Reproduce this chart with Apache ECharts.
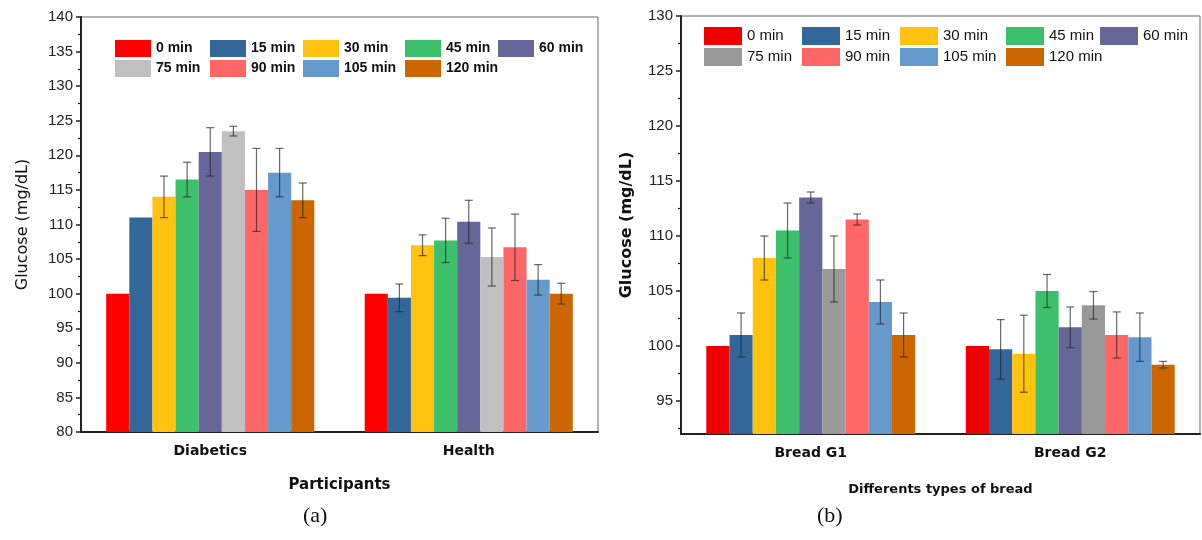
<!DOCTYPE html>
<html>
<head>
<meta charset="utf-8">
<script src="https://cdn.jsdelivr.net/npm/echarts@6/dist/echarts.min.js"></script>
<style>
  html, body { margin: 0; padding: 0; background: #fff; }
  #main { width: 1202px; height: 540px; }
</style>
</head>
<body>
<div id="main"></div>
<script>
// time points (legend)
const timeNames = ['0 min', '15 min', '30 min', '45 min', '60 min', '75 min', '90 min', '105 min', '120 min']
const colorsA = ['#FF0000', '#336699', '#FFC20E', '#3CC06C', '#666699', '#C0C0C0', '#FF6666', '#6699CC', '#CC6600']
const colorsB = ['#EE0000', '#336699', '#FFC20E', '#3CC06C', '#666699', '#999999', '#FF6666', '#6699CC', '#CC6600']

// (a) participants
const groupsA = ['Diabetics', 'Health']
const diabeticsMean = [100, 111, 114, 116.5, 120.5, 123.5, 115, 117.5, 113.5]
const diabeticsErr = [null, null, 3, 2.5, 3.5, 0.7, 6, 3.5, 2.5]
const healthMean = [100, 99.4, 107, 107.7, 110.4, 105.3, 106.7, 102, 100]
const healthErr = [null, 2, 1.5, 3.2, 3.1, 4.2, 4.8, 2.2, 1.5]

// (b) bread types
const groupsB = ['Bread G1', 'Bread G2']
const breadG1Mean = [100, 101, 108, 110.5, 113.5, 107, 111.5, 104, 101]
const breadG1Err = [null, 2, 2, 2.5, 0.5, 3, 0.5, 2, 2]
const breadG2Mean = [100, 99.7, 99.3, 105, 101.7, 103.7, 101, 100.8, 98.3]
const breadG2Err = [null, 2.7, 3.5, 1.5, 1.85, 1.25, 2.1, 2.2, 0.3]

// axis ticks
const ticksA = [80, 85, 90, 95, 100, 105, 110, 115, 120, 125, 130, 135, 140]
const ticksB = [95, 100, 105, 110, 115, 120, 125, 130]
const minorTicksB = [92.5, 97.5, 102.5, 107.5, 112.5, 117.5, 122.5, 127.5]

// legend columns (x of the swatch), 5 per row
const legendColsA = [115, 210, 303, 405, 498]
const legendColsB = [704, 802, 900, 1006, 1100]

const catGap = 0.195
const sans = 'Liberation Sans'
const gothic = 'DejaVu Sans'

let chart
let option = {}

// error bar drawn on top of the grouped bar
function renderErr(params, api){
  const cat = api.value(0)
  const idx = api.value(1)
  const mean = api.value(2)
  const err = api.value(3)
  const band = api.size([1, 0])[0]
  const barW = band * (1 - catGap) / timeNames.length
  const top = api.coord([cat, mean + err])
  const bot = api.coord([cat, mean - err])
  const x = top[0] + (idx - (timeNames.length - 1) / 2) * barW
  const style = {stroke: 'rgba(40,40,40,0.7)', lineWidth: 1.2}
  return {
    type: 'group',
    children: [
      {type: 'line', shape: {x1: x, y1: top[1], x2: x, y2: bot[1]}, style},
      {type: 'line', shape: {x1: x - 4, y1: top[1], x2: x + 4, y2: top[1]}, style},
      {type: 'line', shape: {x1: x - 4, y1: bot[1], x2: x + 4, y2: bot[1]}, style}
    ]
  }
}

function errData(means, errs){
  const out = []
  means.forEach((m, ci) => {
    m.forEach((v, i) => {
      if(errs[ci][i] != null) out.push([ci, i, v, errs[ci][i]])
    })
  })
  return out
}

// one legend per column (two stacked items) so the columns line up
function legendCols(cols, colors, top, textStyle, iw, ih, gap){
  return cols.map((x, c) => {
    const idx = [c, c + cols.length].filter(k => k < timeNames.length)
    return {
      left: x - 5, top: top - 5,
      orient: 'vertical',
      icon: 'rect',
      itemWidth: iw,
      itemHeight: ih,
      itemGap: gap,
      selectedMode: false,
      textStyle,
      data: idx.map(k => ({name: timeNames[k], itemStyle: {color: colors[k]}}))
    }
  })
}

function getOption(){
  const series = []
  timeNames.forEach((name, i) => {
    series.push({
      name, type: 'bar', xAxisIndex: 0, yAxisIndex: 0,
      barGap: '0%', barCategoryGap: (catGap * 100) + '%',
      itemStyle: {color: colorsA[i]},
      data: [diabeticsMean[i], healthMean[i]]
    })
  })
  timeNames.forEach((name, i) => {
    series.push({
      name, type: 'bar', xAxisIndex: 2, yAxisIndex: 1,
      barGap: '0%', barCategoryGap: (catGap * 100) + '%',
      itemStyle: {color: colorsB[i]},
      data: [breadG1Mean[i], breadG2Mean[i]]
    })
  })
  series.push({
    name: 'errA', type: 'custom', xAxisIndex: 0, yAxisIndex: 0,
    renderItem: renderErr, encode: {x: 0, y: 2}, z: 5,
    data: errData([diabeticsMean, healthMean], [diabeticsErr, healthErr])
  })
  series.push({
    name: 'errB', type: 'custom', xAxisIndex: 2, yAxisIndex: 1,
    renderItem: renderErr, encode: {x: 0, y: 2}, z: 5,
    data: errData([breadG1Mean, breadG2Mean], [breadG1Err, breadG2Err])
  })

  const axisLine = {show: true, lineStyle: {color: '#222', width: 2}}
  const legTextA = {fontFamily: sans, fontWeight: 'bold', fontSize: 14, color: '#111'}
  const legTextB = {fontFamily: sans, fontSize: 15, color: '#111'}

  option = {
    animation: false,
    backgroundColor: '#fff',
    grid: [
      {left: 81, top: 17, right: 604, bottom: 108, show: true, borderColor: '#666', borderWidth: 1},
      {left: 681, top: 16, right: 2, bottom: 106, show: true, borderColor: '#666', borderWidth: 1}
    ],
    legend: legendCols(legendColsA, colorsA, 40, legTextA, 36, 17, 3)
      .concat(legendCols(legendColsB, colorsB, 27, legTextB, 38, 18, 3)),
    xAxis: [
      {
        type: 'category', gridIndex: 0, data: groupsA,
        axisLine, axisTick: {alignWithLabel: true, length: 7, lineStyle: {color: '#222', width: 1.5}},
        axisLabel: {fontFamily: gothic, fontWeight: 'bold', fontSize: 14, color: '#111', margin: 12},
        name: 'Participants', nameLocation: 'middle', nameGap: 46,
        nameTextStyle: {fontFamily: gothic, fontWeight: 'bold', fontSize: 15, color: '#111'}
      },
      {
        type: 'category', gridIndex: 0, data: groupsA,
        axisLine: {show: false}, axisLabel: {show: false},
        axisTick: {length: 4, lineStyle: {color: '#222', width: 1.5}}
      },
      {
        type: 'category', gridIndex: 1, data: groupsB,
        axisLine, axisTick: {alignWithLabel: true, length: 7, lineStyle: {color: '#222', width: 1.5}},
        axisLabel: {fontFamily: gothic, fontWeight: 'bold', fontSize: 14, color: '#111', margin: 12},
        name: 'Differents types of bread', nameLocation: 'middle', nameGap: 49,
        nameTextStyle: {fontFamily: gothic, fontWeight: 'bold', fontSize: 13, color: '#111'}
      },
      {
        type: 'category', gridIndex: 1, data: groupsB,
        axisLine: {show: false}, axisLabel: {show: false},
        axisTick: {length: 4, lineStyle: {color: '#222', width: 1.5}}
      }
    ],
    yAxis: [
      {
        type: 'value', gridIndex: 0, min: 80, max: 140, interval: 5,
        axisLine, splitLine: {show: false},
        axisTick: {show: true, length: 5, lineStyle: {color: '#222', width: 1.5}},
        minorTick: {show: true, splitNumber: 2, length: 3, lineStyle: {color: '#222', width: 1.2}},
        axisLabel: {fontFamily: sans, fontSize: 15, color: '#222', margin: 8, customValues: ticksA},
        name: 'Glucose (mg/dL)', nameLocation: 'middle', nameGap: 50,
        nameTextStyle: {fontFamily: gothic, fontSize: 16, color: '#111'}
      },
      {
        type: 'value', gridIndex: 1, min: 92, max: 130, position: 'left',
        axisLine, splitLine: {show: false},
        axisTick: {show: true, length: 5, customValues: ticksB, lineStyle: {color: '#222', width: 1.5}},
        axisLabel: {fontFamily: sans, fontSize: 15, color: '#222', margin: 8, customValues: ticksB},
        name: 'Glucose (mg/dL)', nameLocation: 'middle', nameGap: 46,
        nameTextStyle: {fontFamily: gothic, fontWeight: 'bold', fontSize: 16, color: '#111'}
      },
      {
        type: 'value', gridIndex: 1, min: 92, max: 130, position: 'left',
        axisLine: {show: false}, splitLine: {show: false}, axisLabel: {show: false},
        axisTick: {show: true, length: 3, customValues: minorTicksB, lineStyle: {color: '#222', width: 1.2}}
      }
    ],
    graphic: [
      {type: 'text', left: 303, top: 505, style: {text: '(a)', font: '22px "Liberation Serif"', fill: '#111'}},
      {type: 'text', left: 817, top: 505, style: {text: '(b)', font: '22px "Liberation Serif"', fill: '#111'}}
    ],
    series
  }
}

function initChart(){
  const dom = document.getElementById('main')
  chart = echarts.init(dom, null, {renderer: 'canvas'})
  getOption()
  chart.setOption(option)
}

initChart()
</script>
</body>
</html>
